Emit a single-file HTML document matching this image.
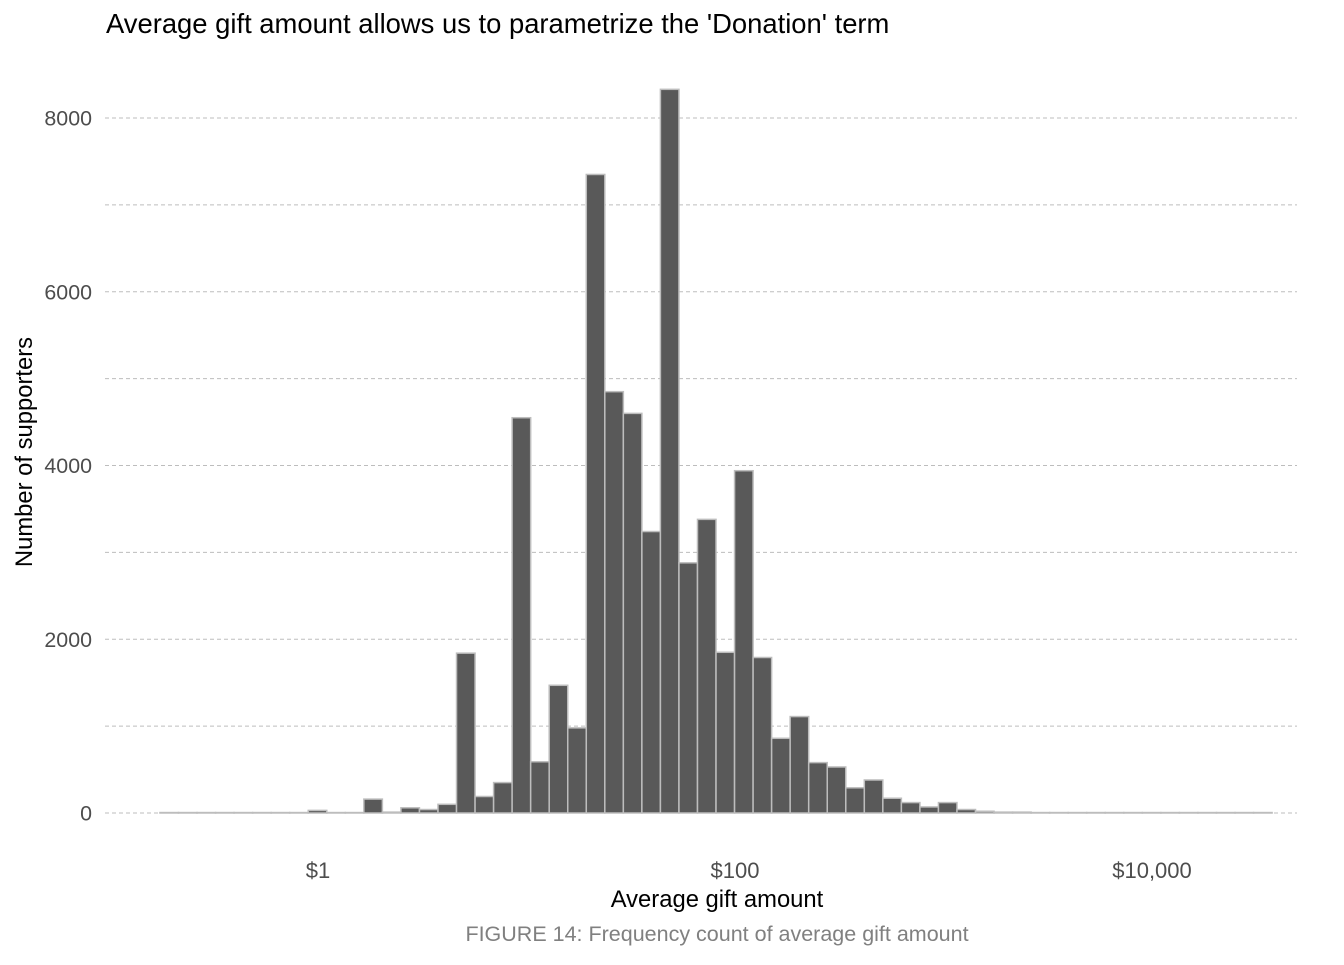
<!DOCTYPE html>
<html><head><meta charset="utf-8"><style>
body{margin:0;background:#fff;width:1344px;height:960px;overflow:hidden;font-family:"Liberation Sans",sans-serif;}
</style></head><body>
<svg id="chart" width="1344" height="960" xmlns="http://www.w3.org/2000/svg" font-family="Liberation Sans, sans-serif">
<text x="106" y="33" font-size="27.4" fill="#000">Average gift amount allows us to parametrize the 'Donation' term</text>
<g id="grid"></g><g id="bars"></g><g id="axes"></g>
<text x="717" y="907" font-size="23.8" text-anchor="middle" fill="#000">Average gift amount</text>
<text transform="translate(32,452) rotate(-90)" font-size="23.8" text-anchor="middle" fill="#000">Number of supporters</text>
<text x="717" y="941" font-size="21.5" text-anchor="middle" fill="#808080">FIGURE 14: Frequency count of average gift amount</text>
</svg>
<script>
const binStartLog = -0.758;
const binWidthLog = 0.0889;
const counts = [5,5,5,5,5,5,5,5,30,5,5,160,10,60,40,100,1840,190,350,4550,590,1470,980,7350,4850,4600,3240,8330,2880,3380,1850,3940,1790,860,1110,580,530,290,380,170,120,70,120,40,20,10,10,5,5,5,5,5,5,5,5,5,5,5,5,5];
const yTicks = [0,2000,4000,6000,8000];
const yGrid = [0,1000,2000,3000,4000,5000,6000,7000,8000];
const xTickVals = [0,2,4];
const xTickLabels = ["$1","$100","$10,000"];
const NS="http://www.w3.org/2000/svg";
const xs = l => 318 + (l-0)*208.5;
const ys = v => 813 - v*695/8000;
function mk(t,a,p){const e=document.createElementNS(NS,t);for(const k in a)e.setAttribute(k,a[k]);p.appendChild(e);return e;}
const grid=document.getElementById('grid'),bars=document.getElementById('bars'),axes=document.getElementById('axes');
yGrid.forEach(v=>{const l=mk('line',{x1:105,x2:1297,y1:ys(v),y2:ys(v),stroke:'#bdbdbd','stroke-width':1,'stroke-dasharray':'4,3'},grid);

});
yTicks.forEach(v=>{const t=mk('text',{x:92,y:ys(v)+7.5,'font-size':21.4,'text-anchor':'end',fill:'#4d4d4d'},axes);t.textContent=v;

});
xTickVals.forEach((v,i)=>{const t=mk('text',{x:xs(v),y:878,'font-size':22,'text-anchor':'middle',fill:'#4d4d4d'},axes);t.textContent=xTickLabels[i];

});
counts.forEach((c,i)=>{const x0=xs(binStartLog+i*binWidthLog),x1=xs(binStartLog+(i+1)*binWidthLog);
const r=mk('rect',{x:x0,y:ys(c),width:x1-x0,height:ys(0)-ys(c),fill:'#595959',stroke:'#bdbdbd','stroke-width':1.5},bars);

});
</script>
</body></html>
